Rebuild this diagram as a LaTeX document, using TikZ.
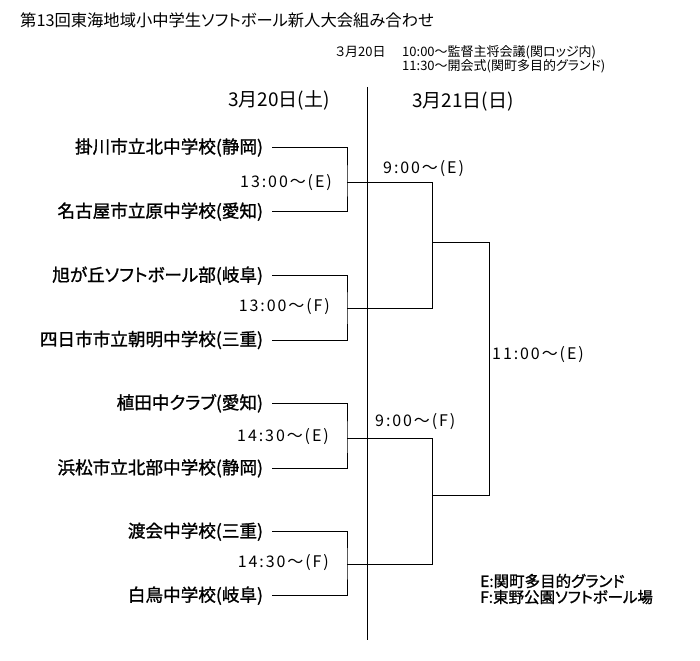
\documentclass[tikz,border=0pt]{standalone}
\usepackage{fontspec}
\setmainfont{Noto Sans CJK JP}[RawFeature=+palt]
\newfontfamily\tmfont{Noto Sans CJK JP}[LetterSpace=12]
\newfontfamily\boldish{Noto Sans CJK JP}[RawFeature=+palt,FakeBold=1.2]
\begin{document}
\begin{tikzpicture}[x=1pt,y=-1pt,
  team/.style={anchor=east,inner sep=0pt,outer sep=0pt,font=\boldish\fontsize{17.6}{17.6}\selectfont},
  tlabel/.style={inner sep=0pt,font=\tmfont\fontsize{16}{16}\selectfont},
  head/.style={anchor=west,inner sep=0pt,font=\fontsize{19}{19}\selectfont},
  note/.style={anchor=west,inner sep=0pt,font=\fontsize{13}{13}\selectfont},
  legend/.style={anchor=west,inner sep=0pt,font=\boldish\fontsize{15.5}{15.5}\selectfont},
  bline/.style={line width=1pt,black}]
\fill[white] (0,0) rectangle (700,660);
\useasboundingbox (0,0) rectangle (700,660);

% title and notes
\node[anchor=west,inner sep=0pt,font=\fontsize{16.3}{16.3}\selectfont] (title) at (20,20) {第13回東海地域小中学生ソフトボール新人大会組み合わせ};
\node[note] (nd) at (335,52) {３月20日};
\node[note] (n1) at (402,52) {10:00～監督主将会議(関ロッジ内)};
\node[note] (n2) at (402,66) {11:30～開会式(関町多目的グランド)};

% day headers
\node[head] (d1) at (228,100) {3月20日(土)};
\node[head] (d2) at (412,102) {3月21日(日)};

% divider
\coordinate (vtop) at (367.5,87);
\coordinate (vbot) at (367.5,640);
\draw[bline] (vtop) -- (vbot);

% teams
\node[team] (t1) at (263,147.5) {掛川市立北中学校(静岡)};
\node[team] (t2) at (263,211.7) {名古屋市立原中学校(愛知)};
\node[team] (t3) at (263,275.7) {旭が丘ソフトボール部(岐阜)};
\node[team] (t4) at (263,340) {四日市市立朝明中学校(三重)};
\node[team] (t5) at (263,403.3) {植田中クラブ(愛知)};
\node[team] (t6) at (263,468.3) {浜松市立北部中学校(静岡)};
\node[team] (t7) at (263,531.7) {渡会中学校(三重)};
\node[team] (t8) at (263,595.7) {白鳥中学校(岐阜)};

% junctions
\coordinate (j1) at (347,182.3);
\coordinate (j2) at (347,308.3);
\coordinate (j3) at (347,438.3);
\coordinate (j4) at (347,564);
\coordinate (k1) at (432,242.7);
\coordinate (k2) at (432,495);
\coordinate (f) at (489.3,369);

% first round
\draw[bline] ([xshift=9pt]t1.east) -| (j1) |- ([xshift=9pt]t2.east);
\draw[bline] ([xshift=9pt]t3.east) -| (j2) |- ([xshift=9pt]t4.east);
\draw[bline] ([xshift=9pt]t5.east) -| (j3) |- ([xshift=9pt]t6.east);
\draw[bline] ([xshift=9pt]t7.east) -| (j4) |- ([xshift=9pt]t8.east);
% second round
\draw[bline] (j1) -| (k1);
\draw[bline] (j2) -| (k1);
\draw[bline] (j3) -| (k2);
\draw[bline] (j4) -| (k2);
% final
\draw[bline] (k1) -| (f) |- (k2);

% time labels
\node[tlabel,anchor=east] (m1) at (332,183) {13:00～(E)};
\node[tlabel,anchor=east] (m2) at (330,307) {13:00～(F)};
\node[tlabel,anchor=east] (m3) at (329,437) {14:30～(E)};
\node[tlabel,anchor=east] (m4) at (329,563) {14:30～(F)};
\node[tlabel,anchor=west] (s1) at (383,169) {9:00～(E)};
\node[tlabel,anchor=west] (s2) at (375,422) {9:00～(F)};
\node[tlabel,anchor=west] (fl) at (492,355) {11:00～(E)};

% legend
\node[legend] (le) at (480,581) {E:関町多目的グランド};
\node[legend] (lf) at (480,597) {F:東野公園ソフトボール場};
\end{tikzpicture}
\end{document}
